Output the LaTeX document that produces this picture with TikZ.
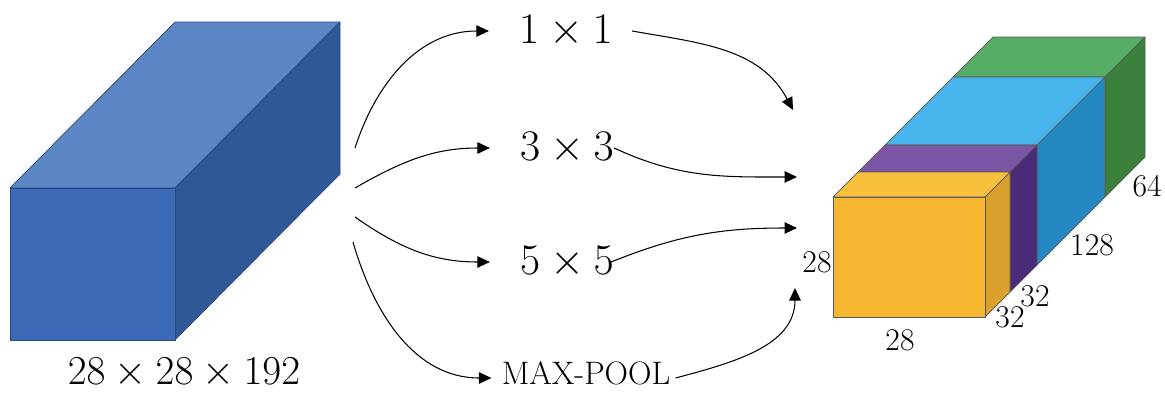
\documentclass[tikz,border=0pt]{standalone}
\usepackage{amsmath}
\usepackage{tikz}
\usetikzlibrary{arrows.meta, positioning, calc}

\definecolor{cubeFront}{RGB}{59,105,181}
\definecolor{cubeTop}{RGB}{92,133,198}
\definecolor{cubeSide}{RGB}{47,88,150}
\definecolor{cubeEdge}{RGB}{40,72,128}
\definecolor{ylwFront}{RGB}{246,182,47}
\definecolor{ylwTop}{RGB}{249,192,62}
\definecolor{ylwSide}{RGB}{217,160,44}
\definecolor{purTop}{RGB}{123,85,166}
\definecolor{purSide}{RGB}{74,43,122}
\definecolor{bluTop}{RGB}{71,181,235}
\definecolor{bluSide}{RGB}{37,136,194}
\definecolor{grnTop}{RGB}{86,174,102}
\definecolor{grnSide}{RGB}{58,127,58}

\begin{document}
\begin{tikzpicture}[
  %% Text styles
  klab/.style ={inner sep=0pt, font=\fontsize{24}{28}\selectfont},
  plab/.style ={inner sep=0pt, font=\fontsize{18.5}{22}\selectfont},
  dlab/.style ={inner sep=1pt, font=\fontsize{18}{21}\selectfont},
  %% Faces
  face/.style ={draw=cubeEdge, line width=0.4pt, line join=round},
  oface/.style={draw=black!65, line width=0.4pt, line join=round},
  %% Arrows
  arr/.style  ={-{Triangle[length=0.25cm, width=0.23cm]}, line width=0.6pt}
]
\useasboundingbox (0,0) rectangle (23.3,7.84);

%% ── INPUT VOLUME ──────────────────────────────────────────────
\fill[cubeTop, face]   (0.2,4.08) -- (3.5,4.08) -- (6.8,7.4) -- (3.5,7.4) -- cycle;
\fill[cubeSide, face]  (3.5,1.04) -- (6.8,4.36) -- (6.8,7.4) -- (3.5,4.08) -- cycle;
\fill[cubeFront, face] (0.2,1.04) rectangle (3.5,4.08);

\node[klab, scale=0.94] (inlab) at (3.68,0.38) {$28\times28\times192$};

%% source points on the right of the volume
\coordinate (src1) at (7.10,4.88);
\coordinate (src2) at (7.10,4.08);
\coordinate (src3) at (7.10,3.50);
\coordinate (src4) at (7.06,3.00);

%% ── BRANCHES ──────────────────────────────────────────────────
\node[klab] (k1)   at (11.32,7.22) {$1\times1$};
\node[klab] (k3)   at (11.34,4.88) {$3\times3$};
\node[klab] (k5)   at (11.34,2.60) {$5\times5$};
\node[plab] (pool) at (11.72,0.38) {MAX-POOL};

\draw[arr] (src1) to[out=72, in=180]  ([xshift=-0.6cm]k1.west);
\draw[arr] (src2) to[out=30, in=180]  ([xshift=-0.6cm]k3.west);
\draw[arr] (src3) to[out=-35, in=180] ([xshift=-0.6cm]k5.west);
\draw[arr] (src4) to[out=-74, in=180] ([xshift=-0.2cm, yshift=-0.1cm]pool.west);

%% ── OUTPUT VOLUME ─────────────────────────────────────────────
%% green slab (64)
\fill[grnTop, oface]  (19.06,6.30) -- (22.10,6.30) -- (22.90,7.10) -- (19.86,7.10) -- cycle;
\fill[grnSide, oface] (22.10,3.90) -- (22.90,4.70) -- (22.90,7.10) -- (22.10,6.30) -- cycle;
%% blue slab (128)
\fill[bluTop, oface]  (17.70,4.94) -- (20.74,4.94) -- (22.10,6.30) -- (19.06,6.30) -- cycle;
\fill[bluSide, oface] (20.74,2.54) -- (22.10,3.90) -- (22.10,6.30) -- (20.74,4.94) -- cycle;
%% purple slab (32)
\fill[purTop, oface]  (17.16,4.40) -- (20.20,4.40) -- (20.74,4.94) -- (17.70,4.94) -- cycle;
\fill[purSide, oface] (20.20,2.00) -- (20.74,2.54) -- (20.74,4.94) -- (20.20,4.40) -- cycle;
%% yellow slab (32)
\fill[ylwTop, oface]  (16.66,3.90) -- (19.70,3.90) -- (20.20,4.40) -- (17.16,4.40) -- cycle;
\fill[ylwSide, oface] (19.70,1.50) -- (20.20,2.00) -- (20.20,4.40) -- (19.70,3.90) -- cycle;
\fill[ylwFront, oface] (16.66,1.50) rectangle (19.70,3.90);

\node[dlab] (hgt)  at (16.34,2.60) {28};
\node[dlab] (wid)  at (18.00,1.04) {28};
\node[dlab] (d32a) at (20.20,1.50) {32};
\node[dlab] (d32b) at (20.70,1.92) {32};
\node[dlab] (d128) at (21.84,2.94) {128};
\node[dlab] (d64)  at (22.94,4.12) {64};

%% targets on the left of the output volume
\coordinate (dst1) at (15.86,5.64);
\coordinate (dst2) at (15.94,4.30);
\coordinate (dst3) at (15.94,3.28);
\coordinate (dst4) at (15.90,2.08);

\draw[arr] ([xshift=0.38cm]k1.east) to[out=-10, in=118] (dst1);
\draw[arr] (k3.east)                to[out=-25, in=180] (dst2);
\draw[arr] ([xshift=-0.06cm]k5.east) to[out=22, in=180] (dst3);
\draw[arr] ([xshift=0.1cm, yshift=-0.1cm]pool.east) to[out=15, in=-90] (dst4);

\end{tikzpicture}
\end{document}
